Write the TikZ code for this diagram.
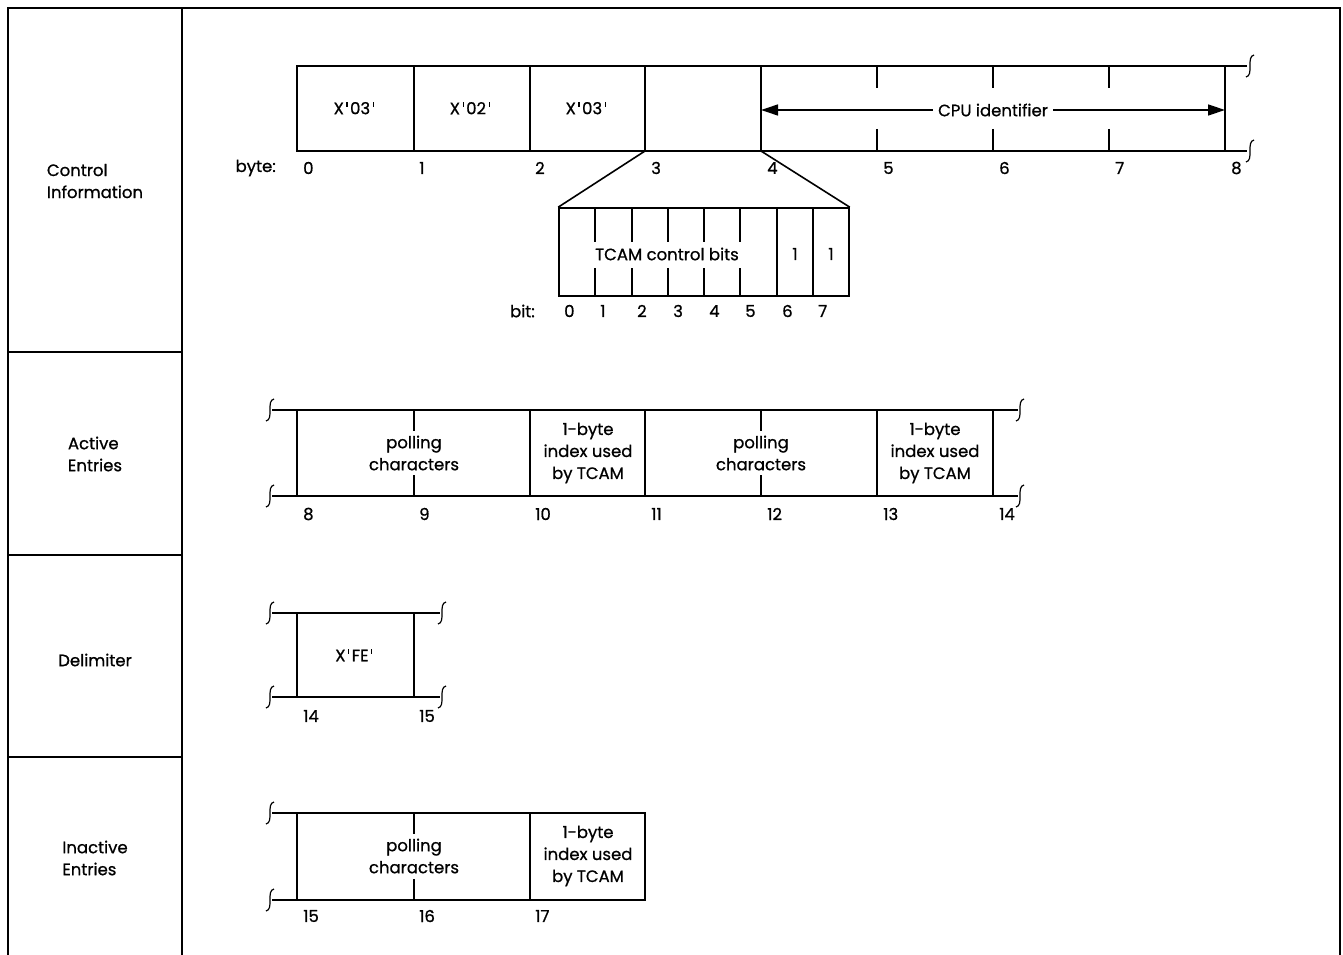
\documentclass[tikz,border=0pt]{standalone}
\usepackage{fontspec}
\setmainfont{Poppins}[FakeBold=0.8]
\usetikzlibrary{arrows.meta,positioning}
\newcommand{\apos}{\kern2.5pt\rule[7.5pt]{1.2pt}{5pt}\kern2.5pt}
\newcommand{\cutmark}[2]{\draw[cut] (#1+4,#2-11) .. controls (#1,#2-10) and (#1,#2-6) .. (#1,#2) .. controls (#1,#2+6) and (#1,#2+10) .. (#1-4,#2+11);}

\begin{document}
\begin{tikzpicture}[x=1pt, y=-1pt,
  font=\fontsize{16.5}{22}\selectfont,
  frm/.style={line width=1.3pt},
  fld/.style={line width=1.6pt},
  cut/.style={line width=1.2pt},
  num/.style={anchor=west, inner sep=0pt},
  txt/.style={align=center, inner sep=1pt},
  sect/.style={align=left, inner sep=0pt},
  arr/.style={{Triangle[length=17pt,width=11pt]}-{Triangle[length=17pt,width=11pt]}, line width=1.3pt}
]
\useasboundingbox (0,0) rectangle (1343,955);
% outer frame and left column
\draw[frm] (8,960) -- (8,8) -- (1340,8) -- (1340,960);
\draw[frm] (182,8) -- (182,960);
\draw[frm] (8,352) -- (182,352) (8,555) -- (182,555) (8,757) -- (182,757);
\node[sect] (ctl) at (95,181) {Control\\Information};
\node[sect] (act) at (95,454) {Active\\Entries};
\node[sect] (dlm) at (95,660) {Delimiter};
\node[sect] (ina) at (95,858) {Inactive\\Entries};

% control information, bytes 0-8
\draw[fld] (1247,66) -- (297,66) -- (297,151) -- (1247,151);
\foreach \x in {414,530,645,761,1225} \draw[fld] (\x,66) -- (\x,151);
\foreach \x in {877,993,1109} \draw[fld] (\x,66) -- (\x,88) (\x,129) -- (\x,151);
\cutmark{1250}{66} \cutmark{1250}{151}
\node[txt] (x03a) at (355,108) {X\apos 03\apos};
\node[txt] (x02) at (471,108) {X\apos 02\apos};
\node[txt] (x03b) at (587,108) {X\apos 03\apos};
\coordinate (b4m) at (761,110);
\coordinate (b8m) at (1225,110);
\draw[arr] (b4m) -- (b8m) node[midway, fill=white, inner sep=5pt] (cpu) {CPU identifier};
\node[num, anchor=east] (byte) at (276,168) {byte:};
\foreach \i in {0,...,8} \node[num] (n\i) at (303+116*\i,168) {\i};

% byte 3 expanded into bits
\coordinate (b3) at (645,151);
\coordinate (b4) at (761,151);
\node[draw, fld, minimum width=290pt, minimum height=88pt, inner sep=0pt] (bits) at (704,252) {};
\draw[fld] (b3) -- (bits.north west);
\draw[fld] (b4) -- (bits.north east);
\foreach \x in {777,813} \draw[fld] (\x,208) -- (\x,296);
\foreach \x in {595,632,668,704,740} \draw[fld] (\x,208) -- (\x,242) (\x,268) -- (\x,296);
\node[txt] (tcam) at (667,254) {TCAM control bits};
\node[txt] (one6) at (795,254) {1};
\node[txt] (one7) at (831,254) {1};
\node[num, anchor=east] (bit) at (535,311) {bit:};
\foreach \x [count=\i from 0] in {564,600,637,673,709,745,782,818} \node[num] (bt\i) at (\x,311) {\i};

% active entries, bytes 8-14
\draw[fld] (272,410) -- (1018,410) (272,496) -- (1018,496);
\foreach \x in {297,530,645,877,993} \draw[fld] (\x,410) -- (\x,496);
\foreach \x in {414,761} \draw[fld] (\x,410) -- (\x,431) (\x,475) -- (\x,496);
\cutmark{270}{410} \cutmark{270}{496} \cutmark{1020}{410} \cutmark{1020}{496}
\node[txt] (pola) at (414,453) {polling\\characters};
\node[txt] (idxa) at (588,453) {1-byte\\index used\\by TCAM};
\node[txt] (polb) at (761,453) {polling\\characters};
\node[txt] (idxb) at (935,453) {1-byte\\index used\\by TCAM};
\foreach \i in {8,...,14} \node[num] (a\i) at (303+116*\i-928,514) {\i};

% delimiter, bytes 14-15
\draw[fld] (272,613) -- (440,613) (272,697) -- (440,697);
\foreach \x in {297,414} \draw[fld] (\x,613) -- (\x,697);
\cutmark{270}{613} \cutmark{270}{697} \cutmark{442}{613} \cutmark{442}{697}
\node[txt] (xfe) at (355,655) {X\apos FE\apos};
\node[num] (d14) at (303,716) {14};
\node[num] (d15) at (419,716) {15};

% inactive entries, bytes 15-17
\draw[fld] (272,813) -- (645,813) -- (645,900) -- (272,900);
\foreach \x in {297,530} \draw[fld] (\x,813) -- (\x,900);
\draw[fld] (414,813) -- (414,834) (414,879) -- (414,900);
\cutmark{270}{813} \cutmark{270}{900}
\node[txt] (polc) at (414,856) {polling\\characters};
\node[txt] (idxc) at (588,856) {1-byte\\index used\\by TCAM};
\node[num] (i15) at (303,916) {15};
\node[num] (i16) at (419,916) {16};
\node[num] (i17) at (535,916) {17};
\end{tikzpicture}
\end{document}
